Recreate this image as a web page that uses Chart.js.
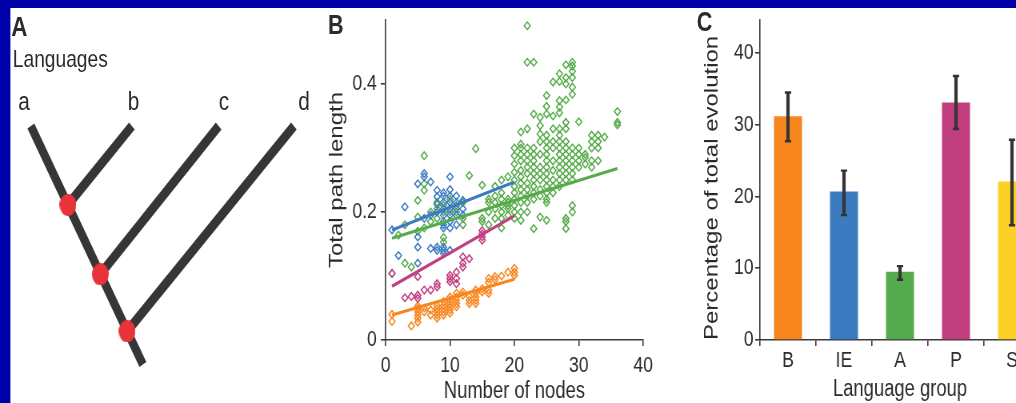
<!DOCTYPE html>
<html><head><meta charset="utf-8">
<script src="https://cdn.jsdelivr.net/npm/chart.js@4.4.1/dist/chart.umd.min.js"></script>
<style>
html,body{margin:0;padding:0;width:1016px;height:403px;overflow:hidden;background:#0000aa;position:relative;}
#stage{position:absolute;left:0;top:0;width:1270px;height:403px;transform:scaleX(0.8);transform-origin:0 0;}
#white{position:absolute;left:12.5px;top:8px;width:1258px;bottom:0;background:#fff;}
canvas{position:absolute;top:0;}
.lbl{position:absolute;line-height:1;color:#2b2b2b;font-family:'Liberation Sans',Arial,sans-serif;white-space:nowrap;}
.pl{font-weight:bold;}
.tip{width:30px;text-align:center;}
</style></head><body>
<div id="stage">
<div id="white"></div>
<canvas id="cA" width="425" height="403" style="left:0px"></canvas>
<canvas id="cB" width="425" height="403" style="left:400px"></canvas>
<canvas id="cC" width="475" height="403" style="left:850px"></canvas>
<div class="lbl pl" style="left:14px;top:13px;font-size:28px">A</div>
<div class="lbl pl" style="left:410px;top:12px;font-size:27px">B</div>
<div class="lbl pl" style="left:871px;top:9px;font-size:27px">C</div>
<div class="lbl" style="left:16px;top:47px;font-size:24px">Languages</div>
<div id="tips"></div>
</div>
<script>
// ---------- Panel A: tree ----------
const tipNames = ['a', 'b', 'c', 'd'];
const tipPos = [0, 0.384, 0.714, 1.0];      // horizontal position of each language (height 1 = present)
const nodeX = [0.141, 0.264, 0.366];        // split points on the trunk
const nodeH = [0.669, 0.378, 0.139];
const rootX = 0.426;

// ---------- Panel B: scatter (columns: [nodes, [path lengths]]) ----------
const orangeCols = [
  [1,[0.029,0.04]],[4,[0.022]],[5,[0.028,0.034,0.039,0.044,0.049,0.053]],[6,[0.044,0.05]],
  [7,[0.039,0.047]],[8,[0.034,0.039,0.044,0.049,0.054]],[9,[0.039,0.044,0.049,0.054,0.06]],
  [10,[0.042,0.047,0.052,0.057,0.062,0.067]],[11,[0.052,0.057,0.062,0.067,0.073]],[12,[0.07,0.075]],
  [13,[0.057,0.062,0.068]],[14,[0.057,0.062,0.067,0.073,0.078]],[15,[0.075,0.08]],
  [16,[0.073,0.078,0.09,0.096]],[17,[0.094,0.099]],[18,[0.1]],[19,[0.106]],[20,[0.101,0.106,0.112]]
];
const magentaCols = [
  [1,[0.104]],[3,[0.066]],[4,[0.068]],[5,[0.065,0.07,0.099]],[6,[0.078]],[7,[0.078]],
  [8,[0.083,0.088]],[10,[0.091,0.096,0.101]],[11,[0.088,0.096,0.106]],[12,[0.114,0.12,0.13]],
  [13,[0.127]],[15,[0.156,0.161,0.166,0.171]]
];
const blueCols = [
  [1,[0.172]],[2,[0.132]],[3,[0.208]],[5,[0.12,0.145,0.161,0.244]],[6,[0.19,0.255,0.26]],
  [7,[0.143,0.195,0.247]],[8,[0.14,0.145,0.2,0.212,0.224,0.234]],
  [9,[0.135,0.14,0.145,0.175,0.18,0.185,0.195,0.205,0.215,0.225,0.23]],
  [10,[0.14,0.175,0.185,0.195,0.205,0.215,0.225,0.235,0.255]],[11,[0.18,0.195,0.205,0.215,0.225]],
  [12,[0.195,0.205,0.218]]
];
const greenCols = [
  [1,[0.104]],[2,[0.164]],[3,[0.12,0.18]],[4,[0.114]],[5,[0.17,0.192,0.218]],[6,[0.175,0.234,0.244,0.288]],
  [7,[0.185,0.2]],[8,[0.19,0.205,0.215]],[9,[0.153,0.16,0.2,0.21]],[10,[0.2,0.22]],[11,[0.2,0.21]],
  [12,[0.18,0.19,0.215]],[13,[0.257]],[14,[0.299]],[15,[0.185,0.19,0.242]],[16,[0.18,0.2,0.215,0.22]],
  [17,[0.19,0.205,0.215,0.225,0.24]],[18,[0.175,0.19,0.2,0.21,0.22,0.23,0.25]],
  [19,[0.195,0.205,0.21,0.215,0.22,0.255]],[20,[0.19,0.2,0.21,0.22,0.23,0.24,0.25,0.262,0.275,0.288,0.3]],
  [21,[0.187,0.2,0.215,0.225,0.235,0.245,0.255,0.265,0.28,0.29,0.3,0.306,0.325]],
  [22,[0.2,0.215,0.225,0.235,0.245,0.26,0.27,0.28,0.29,0.3,0.33,0.434,0.491]],
  [23,[0.174,0.22,0.23,0.24,0.25,0.26,0.27,0.28,0.29,0.3,0.353,0.434]],
  [24,[0.192,0.225,0.235,0.25,0.26,0.27,0.29,0.31,0.322,0.335,0.348]],
  [25,[0.187,0.215,0.22,0.23,0.24,0.25,0.26,0.27,0.28,0.29,0.3,0.31,0.32,0.353,0.365,0.382]],
  [26,[0.23,0.24,0.25,0.265,0.28,0.3,0.31,0.33,0.35,0.403]],
  [27,[0.24,0.25,0.26,0.27,0.28,0.29,0.3,0.31,0.32,0.33,0.355,0.364,0.374,0.404,0.416]],
  [28,[0.174,0.185,0.19,0.25,0.26,0.27,0.28,0.29,0.3,0.31,0.33,0.34,0.375,0.4,0.41,0.43]],
  [29,[0.2,0.21,0.25,0.26,0.27,0.28,0.29,0.3,0.384,0.395,0.41,0.42,0.428,0.434]],
  [30,[0.27,0.28,0.29,0.3,0.341]],[31,[0.275,0.285,0.29]],[32,[0.27,0.28,0.3,0.31,0.32]],
  [33,[0.28,0.3,0.31,0.32]],[34,[0.317]],[36,[0.336,0.34,0.357]]
];
// fitted lines: [x0, y0, x1, y1]
const blueFit = [1, 0.172, 20, 0.247];
const greenFit = [1, 0.159, 36, 0.268];
const magentaFit = [1, 0.084, 20, 0.194];
const orangeFit = [1, 0.039, 20, 0.095];
const bXTicks = [0, 10, 20, 30, 40];
const bYTicks = [0, 0.2, 0.4];

// ---------- Panel C: bars ----------
const groups = ['B', 'IE', 'A', 'P', 'S'];
const percent = [31.2, 20.7, 9.5, 33.1, 22.1];
const errLow = [27.7, 17.4, 8.4, 29.4, 16.0];
const errHigh = [34.5, 23.6, 10.3, 36.8, 27.9];
const cYTicks = [0, 10, 20, 30, 40];

const REG = "'Liberation Sans',Arial,sans-serif";
const TXT = '#2b2b2b';
const AX = '#3a3a3a';
Chart.defaults.font.family = REG;
Chart.defaults.color = TXT;

// tip labels
const tipsDiv = document.getElementById('tips');
const tipCenters = [30, 167, 280, 380];
tipNames.forEach((n, i) => {
  const d = document.createElement('div');
  d.className = 'lbl tip';
  d.style.fontSize = '26px';
  d.style.left = (tipCenters[i] - 15) + 'px';
  d.style.top = '88px';
  d.textContent = n;
  tipsDiv.appendChild(d);
});

function ellipseMark(w, h, color) {
  const c = document.createElement('canvas');
  c.width = w; c.height = h;
  const g = c.getContext('2d');
  g.fillStyle = color;
  g.beginPath(); g.ellipse(w / 2, h / 2, w / 2, h / 2, 0, 0, Math.PI * 2); g.fill();
  return c;
}

const branchColor = '#363638';
const seg = (x0, y0, x1, y1) => ({
  type: 'line', data: [{x: x0, y: y0}, {x: x1, y: y1}], borderColor: branchColor,
  borderWidth: 10, pointRadius: 0, borderCapStyle: 'butt', order: 2
});
new Chart(document.getElementById('cA'), {
  type: 'scatter',
  data: { datasets: [
    { type: 'scatter', data: nodeX.map((x, i) => ({x, y: nodeH[i]})), pointStyle: ellipseMark(21, 22, '#e8333b'),
      pointRadius: 9, order: 1 },
    seg(tipPos[0], 1, rootX, 0),
    seg(nodeX[0], nodeH[0], tipPos[1], 1),
    seg(nodeX[1], nodeH[1], tipPos[2], 1),
    seg(nodeX[2], nodeH[2], tipPos[3], 1)
  ]},
  options: {
    responsive: false, animation: false, devicePixelRatio: 1,
    layout: { padding: 0 },
    plugins: { legend: { display: false }, tooltip: { enabled: false } },
    scales: {
      x: { type: 'linear', display: false, min: -0.087, max: 1.145 },
      y: { type: 'linear', display: false, min: -0.1195, max: 1.486 }
    }
  }
});

// ---------- Panel B ----------
function expand(cols) { const out = []; cols.forEach(([x, ys]) => ys.forEach(y => out.push({x, y}))); return out; }
const sc = (cols, color, order) => ({
  type: 'scatter', data: expand(cols), pointStyle: 'rectRot', pointRadius: 3.8,
  borderColor: color, backgroundColor: 'rgba(255,255,255,0)', pointBorderWidth: 1.5, order
});
const fit = (f, color) => ({
  type: 'line', data: [{x: f[0], y: f[1]}, {x: f[2], y: f[3]}], borderColor: color,
  borderWidth: 3.2, pointRadius: 0, order: 0
});
const GREEN = '#57ab4b', BLUE = '#3c7bc2', MAG = '#c13f80', ORA = '#f7861f';
const axisCommon = {
  grid: { drawOnChartArea: false, drawTicks: true, tickLength: 6, color: AX, lineWidth: 1.6 },
  border: { display: true, color: AX, width: 1.6 }
};
new Chart(document.getElementById('cB'), {
  type: 'scatter',
  data: { datasets: [
    fit(blueFit, BLUE), fit(greenFit, GREEN), fit(magentaFit, MAG), fit(orangeFit, ORA),
    sc(blueCols, BLUE, 2), sc(magentaCols, MAG, 3), sc(orangeCols, ORA, 4), sc(greenCols, GREEN, 5)
  ]},
  options: {
    responsive: false, animation: false, devicePixelRatio: 1,
    layout: { padding: { left: 0, top: 20, right: 21, bottom: 0 } },
    plugins: { legend: { display: false }, tooltip: { enabled: false } },
    scales: {
      x: Object.assign({
        type: 'linear', min: 0, max: 40,
        afterBuildTicks: s => { s.ticks = bXTicks.map(v => ({value: v})); },
        afterFit: s => { s.height = 63; },
        ticks: { font: { size: 22 }, padding: 7, maxRotation: 0, color: TXT },
        title: { display: true, text: 'Number of nodes', font: { size: 23, lineHeight: 1 }, padding: 0, color: TXT }
      }, axisCommon),
      y: Object.assign({
        type: 'linear', min: 0, max: 0.5,
        afterBuildTicks: s => { s.ticks = bYTicks.map(v => ({value: v})); },
        afterFit: s => { s.width = 82; },
        ticks: { font: { size: 22 }, padding: 5, color: TXT, callback: v => v === 0 ? '0' : v.toFixed(1) },
        title: { display: true, text: 'Total path length', font: { size: 24, lineHeight: 1 }, padding: { top: 9, bottom: 0 }, color: TXT }
      }, axisCommon)
    }
  }
});

// ---------- Panel C ----------
const barColors = ['#f7861f', '#3c7bbf', '#55aa4e', '#c13f7e', '#fdd027'];
new Chart(document.getElementById('cC'), {
  type: 'bar',
  data: { labels: groups, datasets: [
    { type: 'line', data: errHigh, showLine: false, pointStyle: 'line', pointRadius: 4,
      borderColor: '#333', pointBorderWidth: 2.4, order: 1 },
    { type: 'line', data: errLow, showLine: false, pointStyle: 'line', pointRadius: 4,
      borderColor: '#333', pointBorderWidth: 2.4, order: 1 },
    { type: 'bar', data: groups.map((g, i) => [errLow[i], errHigh[i]]), backgroundColor: '#353535',
      barThickness: 3.5, grouped: false, order: 2 },
    { type: 'bar', data: percent, backgroundColor: barColors, categoryPercentage: 1, barPercentage: 0.5,
      grouped: false, order: 3 }
  ]},
  options: {
    responsive: false, animation: false, devicePixelRatio: 1,
    layout: { padding: { left: 0, top: 20, right: 25, bottom: 0 } },
    plugins: { legend: { display: false }, tooltip: { enabled: false } },
    scales: {
      x: Object.assign({
        type: 'category', offset: true,
        afterFit: s => { s.height = 63; },
        ticks: { font: { size: 22 }, padding: 2, color: TXT, maxRotation: 0 },
        title: { display: true, text: 'Language group', font: { size: 23, lineHeight: 1 }, padding: { top: 0, bottom: 2 }, color: TXT }
      }, axisCommon, { grid: Object.assign({}, axisCommon.grid, { offset: true }) }),
      y: Object.assign({
        type: 'linear', min: 0, max: 44.6,
        afterBuildTicks: s => { s.ticks = cYTicks.map(v => ({value: v})); },
        afterFit: s => { s.width = 100; },
        ticks: { font: { size: 22 }, padding: 2, color: TXT },
        title: { display: true, text: 'Percentage of total evolution', font: { size: 24, lineHeight: 1 }, padding: { top: 28, bottom: 0 }, color: TXT, align: 'start' }
      }, axisCommon)
    }
  }
});
</script>
</body></html>
